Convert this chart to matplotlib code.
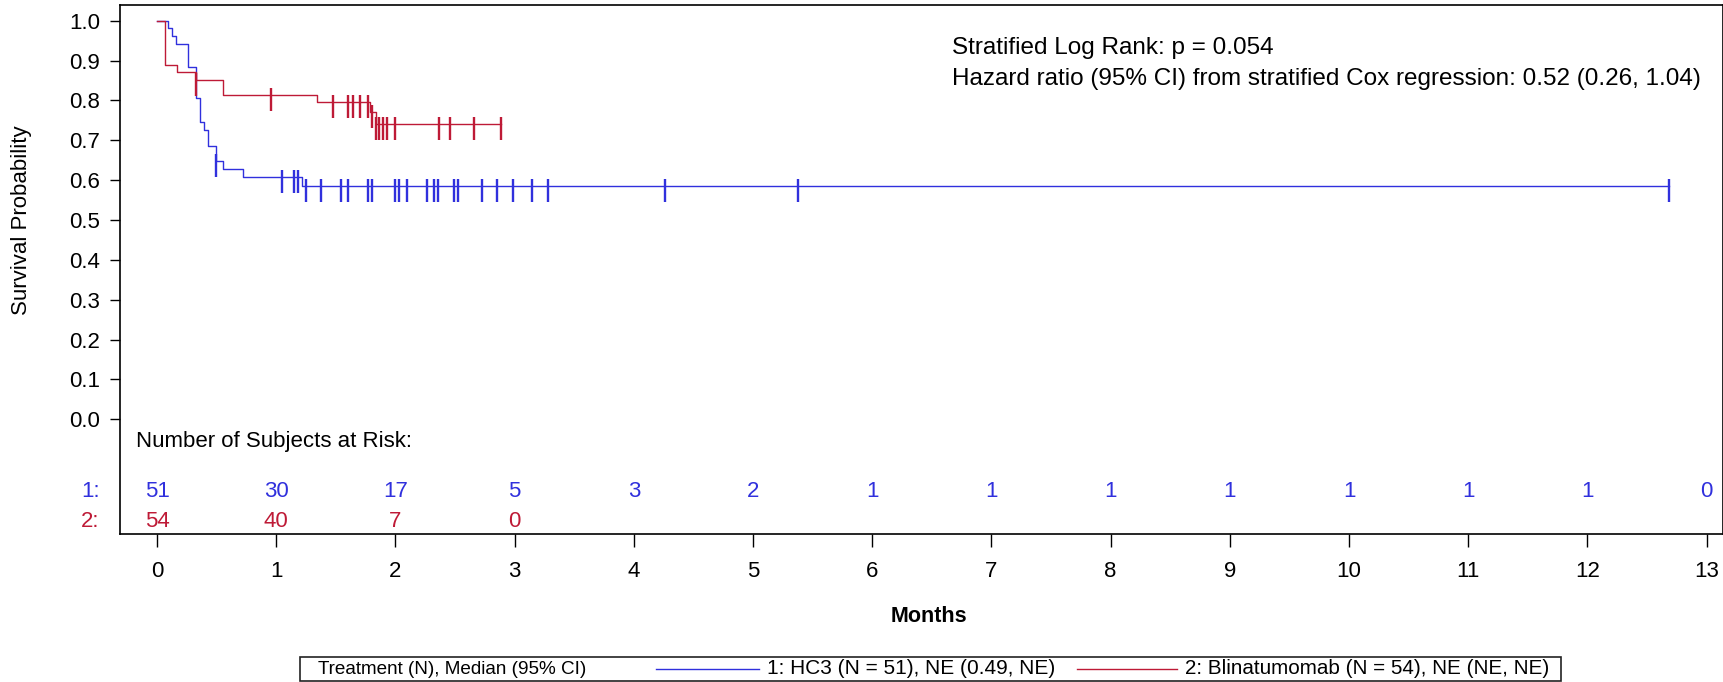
import numpy as np
import matplotlib
matplotlib.use('Agg')
import matplotlib.pyplot as plt
from matplotlib.path import Path
from matplotlib.lines import Line2D
from matplotlib.patches import Rectangle

plt.rcParams['font.family'] = ['Liberation Sans', 'DejaVu Sans']

# Kaplan-Meier steps
hc3_times = [0, 0.094, 0.128, 0.162, 0.263, 0.325, 0.361, 0.394, 0.428, 0.492, 0.556, 0.724, 1.214]
hc3_surv = [1.0, 0.981, 0.962, 0.942, 0.883, 0.805, 0.746, 0.726, 0.687, 0.649, 0.629, 0.609, 0.585]
hc3_end = 12.68
hc3_censor = [0.492, 1.051, 1.149, 1.183, 1.247, 1.376, 1.541, 1.605, 1.770, 1.804, 2.000,
              2.030, 2.097, 2.263, 2.327, 2.360, 2.492, 2.525, 2.724, 2.855, 2.984, 3.149,
              3.280, 4.262, 5.378, 12.68]

blin_times = [0, 0.067, 0.165, 0.325, 0.556, 1.345, 1.787, 1.835]
blin_surv = [1.0, 0.890, 0.871, 0.852, 0.815, 0.795, 0.770, 0.740]
blin_end = 2.886
blin_censor = [0.325, 0.954, 1.474, 1.605, 1.642, 1.706, 1.770, 1.801, 1.835, 1.865, 1.899,
               1.932, 1.999, 2.363, 2.461, 2.657, 2.886]

# subjects at risk
risk_months = list(range(14))
hc3_risk = [51, 30, 17, 5, 3, 2, 1, 1, 1, 1, 1, 1, 1, 0]
blin_risk = [54, 40, 7, 0]

blue = '#3030DD'
red = '#BE1A36'

W, H = 1724, 682
fig = plt.figure(figsize=(W / 100, H / 100), dpi=100)


# pixel (from top-left) -> figure fraction
def fx(x):
    return x / W


def fy(y):
    return 1 - y / H


ax = fig.add_axes([fx(119.7), fy(533.5), fx(1723 - 119.7), (533.5 - 5) / H])
ax.set_xlim(-0.313, 13.137)
ax.set_ylim(-0.2866, 1.0396)

# censor tick: longer below the curve than above
cens_marker = Path([(0, -16), (0, 7)], [Path.MOVETO, Path.LINETO])


def km(times, surv, end, censor, color):
    ax.step(list(times) + [end], list(surv) + [surv[-1]], where='post', color=color, lw=1.0)
    idx = np.searchsorted(times, censor, side='right') - 1
    ax.plot(censor, np.array(surv)[idx], ls='none', marker=cens_marker, ms=23,
            mec=color, mew=1.7)


km(hc3_times, hc3_surv, hc3_end, hc3_censor, blue)
km(blin_times, blin_surv, blin_end, blin_censor, red)

ax.set_xticks(range(14))
ax.set_yticks(np.arange(0, 1.01, 0.1))
ax.set_yticklabels([f'{v:.1f}' for v in np.arange(0, 1.01, 0.1)])
ax.tick_params(axis='x', length=9, width=1, labelsize=16, pad=11)
ax.tick_params(axis='y', length=7.2, width=1, labelsize=16, pad=7)
for s in ax.spines.values():
    s.set_linewidth(1.2)

# at-risk table inside the axes
fig.text(fx(136), fy(441), 'Number of Subjects at Risk:', fontsize=16, va='center', ha='left')
row1_y = -(491.7 - 419.3) / 398.5
row2_y = -(521.7 - 419.3) / 398.5
for m, n in zip(risk_months, hc3_risk):
    ax.text(m, row1_y, str(n), color=blue, fontsize=16, ha='center', va='center')
for m, n in zip(risk_months, blin_risk):
    ax.text(m, row2_y, str(n), color=red, fontsize=16, ha='center', va='center')
ax.text(-0.48, row1_y, '1:', color=blue, fontsize=16, ha='right', va='center', clip_on=False)
ax.text(-0.48, row2_y, '2:', color=red, fontsize=16, ha='right', va='center', clip_on=False)

fig.text(fx(952), fy(48), 'Stratified Log Rank: p = 0.054', fontsize=17.5, va='center')
fig.text(fx(952), fy(79), 'Hazard ratio (95% CI) from stratified Cox regression: 0.52 (0.26, 1.04)',
         fontsize=17.5, va='center')

fig.text(fx(22), fy(220), 'Survival Probability', rotation=90, fontsize=16, ha='center', va='center')
fig.text(fx(929), fy(617), 'Months', fontsize=15.5, ha='center', va='center', fontweight='bold')

# legend box
fig.add_artist(Rectangle((fx(300), fy(681)), fx(1561 - 300), (681 - 657) / H, transform=fig.transFigure,
                         fill=False, edgecolor='#222222', lw=1.2))
fig.text(fx(318), fy(669), 'Treatment (N), Median (95% CI)', fontsize=13.6, va='center')
fig.add_artist(Line2D([fx(656), fx(759)], [fy(669), fy(669)], color=blue, lw=1.0, transform=fig.transFigure))
fig.text(fx(767), fy(669), '1: HC3 (N = 51), NE (0.49, NE)', fontsize=15, va='center')
fig.add_artist(Line2D([fx(1077), fx(1177)], [fy(669), fy(669)], color=red, lw=1.0, transform=fig.transFigure))
fig.text(fx(1185), fy(669), '2: Blinatumomab (N = 54), NE (NE, NE)', fontsize=14.9, va='center')

fig.savefig('out.png', dpi=100)
